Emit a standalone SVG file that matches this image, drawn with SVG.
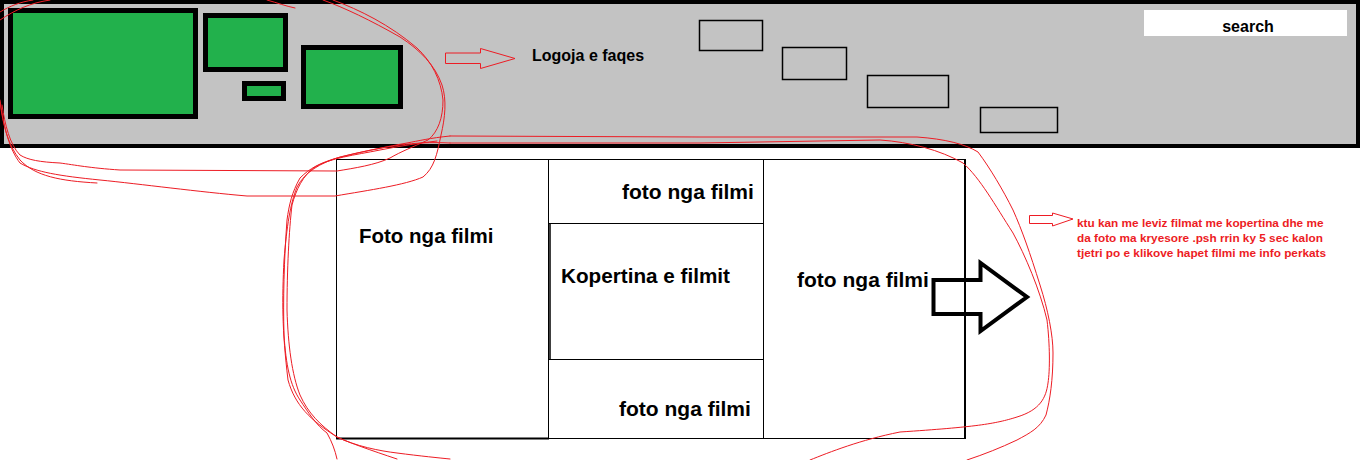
<svg xmlns="http://www.w3.org/2000/svg" width="1360" height="460" viewBox="0 0 1360 460">
  <style>
    .bar { fill: #c3c3c3; stroke: #000; stroke-width: 4; }
    .logo { fill: #22b14c; stroke: #000; stroke-width: 5; }
    .menu { fill: none; stroke: #000; stroke-width: 1.5; }
    .cell { fill: #fff; stroke: #000; stroke-width: 1; }
    .line { stroke: #000; fill: none; }
    .lbl { font-family: "Liberation Sans", Arial, sans-serif; font-weight: bold; fill: #000; }
    .note { font-family: "Liberation Sans", Arial, sans-serif; font-weight: bold; fill: #ed1c24; font-size: 11.8px; }
    .scribble { fill: none; stroke: #ed1c24; stroke-width: 1; stroke-linejoin: round; stroke-linecap: round; }
    .hollow { fill: none; stroke: #ed1c24; stroke-width: 1; }
    .bigarrow { fill: none; stroke: #000; stroke-width: 4; stroke-linejoin: miter; }
  </style>

  <rect width="1360" height="460" fill="#fff"/>

  <!-- header bar -->
  <g id="header">
    <rect class="bar" x="2" y="2" width="1356" height="144"/>
  </g>

  <!-- logo blocks -->
  <g id="logo-main"><rect class="logo" x="10.5" y="10.5" width="185" height="106"/></g>
  <g id="logo-2"><rect class="logo" x="205.5" y="15.5" width="80" height="54"/></g>
  <g id="logo-3"><rect class="logo" x="244.5" y="83.5" width="39" height="15"/></g>
  <g id="logo-4"><rect class="logo" x="303.5" y="47.5" width="97" height="59"/></g>

  <g id="logo-label">
    <text class="lbl" x="532" y="61" font-size="16">Logoja e faqes</text>
  </g>

  <!-- menu items -->
  <g id="menu-1"><rect class="menu" x="699.5" y="20.5" width="63" height="30"/></g>
  <g id="menu-2"><rect class="menu" x="782.5" y="47.5" width="64" height="32"/></g>
  <g id="menu-3"><rect class="menu" x="867.5" y="75.5" width="81" height="32"/></g>
  <g id="menu-4"><rect class="menu" x="980.5" y="107.5" width="77" height="25"/></g>

  <!-- search field -->
  <g id="search">
    <rect x="1144" y="10" width="203" height="26" fill="#fff"/>
    <text class="lbl" x="1248" y="32" font-size="16" text-anchor="middle">search</text>
  </g>

  <!-- slider: left photo -->
  <g id="photo-left">
    <rect class="cell" x="336.5" y="159.5" width="212" height="279"/>
    <line class="line" x1="336" y1="438.5" x2="549" y2="438.5" stroke-width="2"/>
    <text class="lbl" x="359" y="243" font-size="20.5">Foto nga filmi</text>
  </g>

  <!-- slider: middle column -->
  <g id="photo-top">
    <rect class="cell" x="548.5" y="159.5" width="215" height="64"/>
    <text class="lbl" x="622" y="199" font-size="21">foto nga filmi</text>
  </g>
  <g id="cover">
    <rect class="cell" x="548.5" y="223.5" width="215" height="136"/>
    <line class="line" x1="550" y1="223.5" x2="550" y2="359.5" stroke-width="1.5"/>
    <text class="lbl" x="561" y="283" font-size="20.7">Kopertina e filmit</text>
  </g>
  <g id="photo-bottom">
    <rect class="cell" x="548.5" y="359.5" width="215" height="79"/>
    <text class="lbl" x="619" y="416" font-size="21">foto nga filmi</text>
  </g>

  <!-- slider: right photo -->
  <g id="photo-right">
    <rect class="cell" x="763.5" y="159.5" width="201" height="279"/>
    <line class="line" x1="965" y1="159" x2="965" y2="439" stroke-width="2"/>
    <text class="lbl" x="797" y="287" font-size="21">foto nga filmi</text>
  </g>

  <!-- arrows -->
  <g id="connectors">
    <polygon class="bigarrow" points="933.5,280 980.5,280 980.5,263 1027,297 980.5,331 980.5,314 933.5,314"/>
    <polygon class="hollow" points="445.5,53 480.5,53 480.5,48.5 515,58.5 480.5,68.5 480.5,63.5 445.5,63.5"/>
    <polygon class="hollow" points="1029.5,215.5 1052.5,215.5 1052.5,213 1073,219 1052.5,226 1052.5,223.5 1029.5,223.5"/>
  </g>

  <!-- slider note -->
  <g id="note">
    <text class="note" x="1077" y="227">ktu kan me leviz filmat me kopertina dhe me</text>
    <text class="note" x="1077" y="242">da foto ma kryesore .psh rrin ky 5 sec kalon</text>
    <text class="note" x="1077" y="257">tjetri po e klikove hapet filmi me info perkats</text>
  </g>

  <!-- hand-drawn lassos -->
  <g id="lasso-header">
    <path class="scribble" d="M0,20 C15,10 30,3 50,0"/>
    <path class="scribble" d="M0,12 C10,6 20,2 33,0"/>
    <path class="scribble" d="M267,0 C278,3 285,6 295,8"/>
    <path class="scribble" d="M323,0 C345,8 370,20 400,37 C420,50 435,65 442,85 C447,100 445,118 441,135 C437,155 434,168 423,177 C405,185 370,190 335,196 L247,196 C200,192 140,184 100,180 C60,176 35,172 20,163 C10,150 4,130 0,100"/>
    <path class="scribble" d="M333,0 C360,10 390,25 417,48 C432,62 441,80 443,100 C443,118 438,132 428,140 C415,146 400,152 390,158 C375,165 355,168 337,171 L120,170 C90,168 75,165 60,163 C40,162 28,160 20,155 C10,145 5,125 2,105"/>
    <path class="scribble" d="M0,102 C3,125 8,145 20,160 C35,176 60,181 97,183"/>
  </g>

  <g id="lasso-slider">
    <path class="scribble" d="M450,143 L700,143 L880,140 C910,142 940,150 963,163 C980,178 995,205 1013,233 C1025,255 1040,290 1047,320 C1050,345 1050,370 1048,383 C1046,398 1040,410 1017,417 C995,424 975,427 900,432 C860,440 830,452 810,460"/>
    <path class="scribble" d="M450,136 L700,137 L917,137 C945,139 965,144 978,152 C990,168 1003,190 1013,210 C1022,230 1030,253 1040,285 C1048,310 1053,335 1053,353 C1053,380 1050,400 1046,415 C1040,428 1030,433 1017,440 C1000,448 985,454 967,460"/>
    <path class="scribble" d="M450,143 C430,142 415,143 400,145 C380,148 360,152 340,157 C320,163 305,172 297,187 C290,205 287,225 284,260 C282,300 282,330 288,380 C295,405 310,420 337,437 C355,446 380,451 397,453 C420,456 440,458 450,459"/>
    <path class="scribble" d="M450,136 C430,138 418,141 407,143 C390,146 360,152 337,158 C320,163 310,168 300,178 C292,192 289,205 287,220 C284,260 283,300 284,335 C286,365 290,385 300,400 C308,412 316,425 327,433 C332,442 335,450 337,459"/>
    <path class="scribble" d="M437,141 C420,143 400,146 380,150 C355,155 330,158 315,167 C303,175 296,190 292,205 C289,230 287,270 287,310 C288,345 292,375 300,395 C308,413 320,425 337,437 C350,443 370,450 397,459"/>
  </g>
</svg>
